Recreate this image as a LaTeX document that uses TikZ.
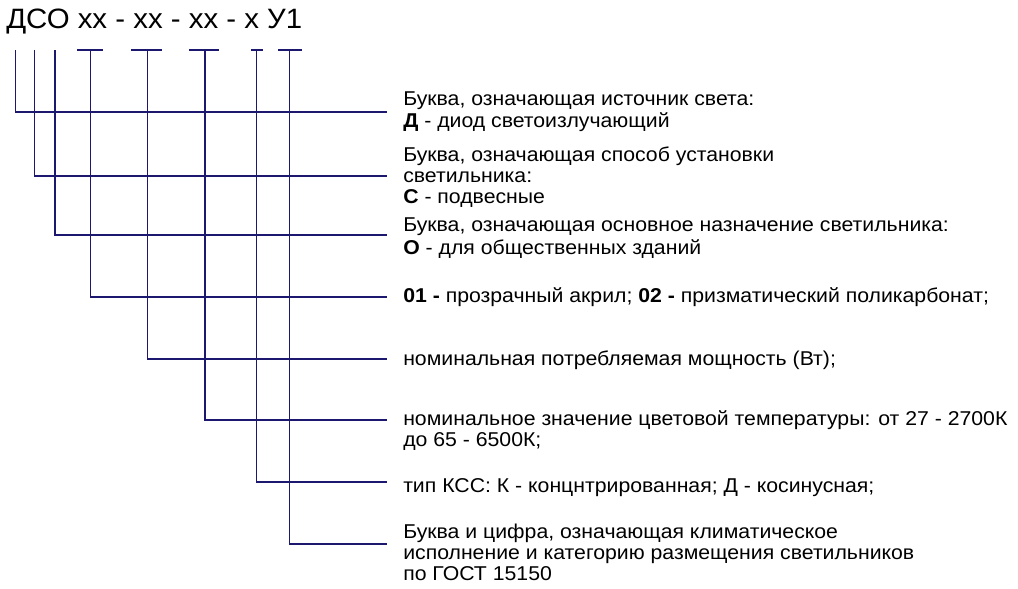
\documentclass[tikz,border=0pt]{standalone}
\usepackage{fontspec}
\setmainfont[FakeStretch=1.062]{Liberation Sans}
\newfontfamily\titlefont[FakeStretch=1.05]{Liberation Sans}
\definecolor{navy}{RGB}{28,24,112}
\begin{document}
\begin{tikzpicture}[x=0.75pt,y=-0.75pt,
  conn/.style={draw=navy,line width=0.9pt},
  txt/.style={anchor=north west,inner sep=0pt,align=left,
    font=\fontsize{15}{15.75}\selectfont},
  ttl/.style={anchor=base west,inner sep=0pt,font=\titlefont\fontsize{21}{25}\selectfont}]
\useasboundingbox (0,0) rectangle (1018,589);
\fill[white] (0,0) rectangle (1018,589);
\node[ttl] (title) at (6,28) {ДСО хх - хх - хх - х У1};
% tops of connectors
\coordinate (c1) at (15.7,50);
\coordinate (c2) at (34.3,50);
\coordinate (c3) at (55,50);
\coordinate (c4) at (90.3,50);
\coordinate (c5) at (147.3,50);
\coordinate (c6) at (205,50);
\coordinate (c7) at (256.3,50);
\coordinate (c8) at (289.3,50);
% connector ends
\coordinate (e1) at (387,112);
\coordinate (e2) at (387,176);
\coordinate (e3) at (387,235);
\coordinate (e4) at (387,297);
\coordinate (e5) at (387,359);
\coordinate (e6) at (387,420);
\coordinate (e7) at (387,482);
\coordinate (e8) at (387,544);
% bars
\coordinate (b4l) at (77,50);  \coordinate (b4r) at (103,50);
\coordinate (b5l) at (131,50); \coordinate (b5r) at (162,50);
\coordinate (b6l) at (189,50); \coordinate (b6r) at (219,50);
\coordinate (b7l) at (251,50); \coordinate (b7r) at (263,50);
\coordinate (b8l) at (278,50); \coordinate (b8r) at (302,50);
\foreach \i in {4,...,8} {\draw[conn] (b\i l) -- (b\i r);}
\foreach \i in {1,...,8} {\draw[conn] (c\i) |- (e\i);}
% texts
\node[txt] (t1) at (403,90.3) {\strut Буква, означающая источник света:\\\textbf{Д} - диод светоизлучающий};
\node[txt] (t2) at (403,146.8) {\strut Буква, означающая способ установки\\светильника:\\\textbf{С} - подвесные};
\node[txt] (t3) at (403,217) {\strut Буква, означающая основное назначение светильника:\\\textbf{О} - для общественных зданий};
\node[txt] (t4) at (403,287.3) {\strut\textbf{01 -} прозрачный акрил; \textbf{02 -} призматический поликарбонат;};
\node[txt] (t5) at (403,350.3) {\strut номинальная потребляемая мощность (Вт);};
\node[txt] (t6) at (403,410.3) {\strut номинальное значение цветовой температуры: от 27 - 2700К\\до 65 - 6500К;};
\node[txt] (t7) at (403,477.8) {\strut тип КСС: К - концнтрированная; Д - косинусная;};
\node[txt] (t8) at (403,523.3) {\strut Буква и цифра, означающая климатическое\\исполнение и категорию размещения светильников\\по ГОСТ 15150};
\end{tikzpicture}
\end{document}
